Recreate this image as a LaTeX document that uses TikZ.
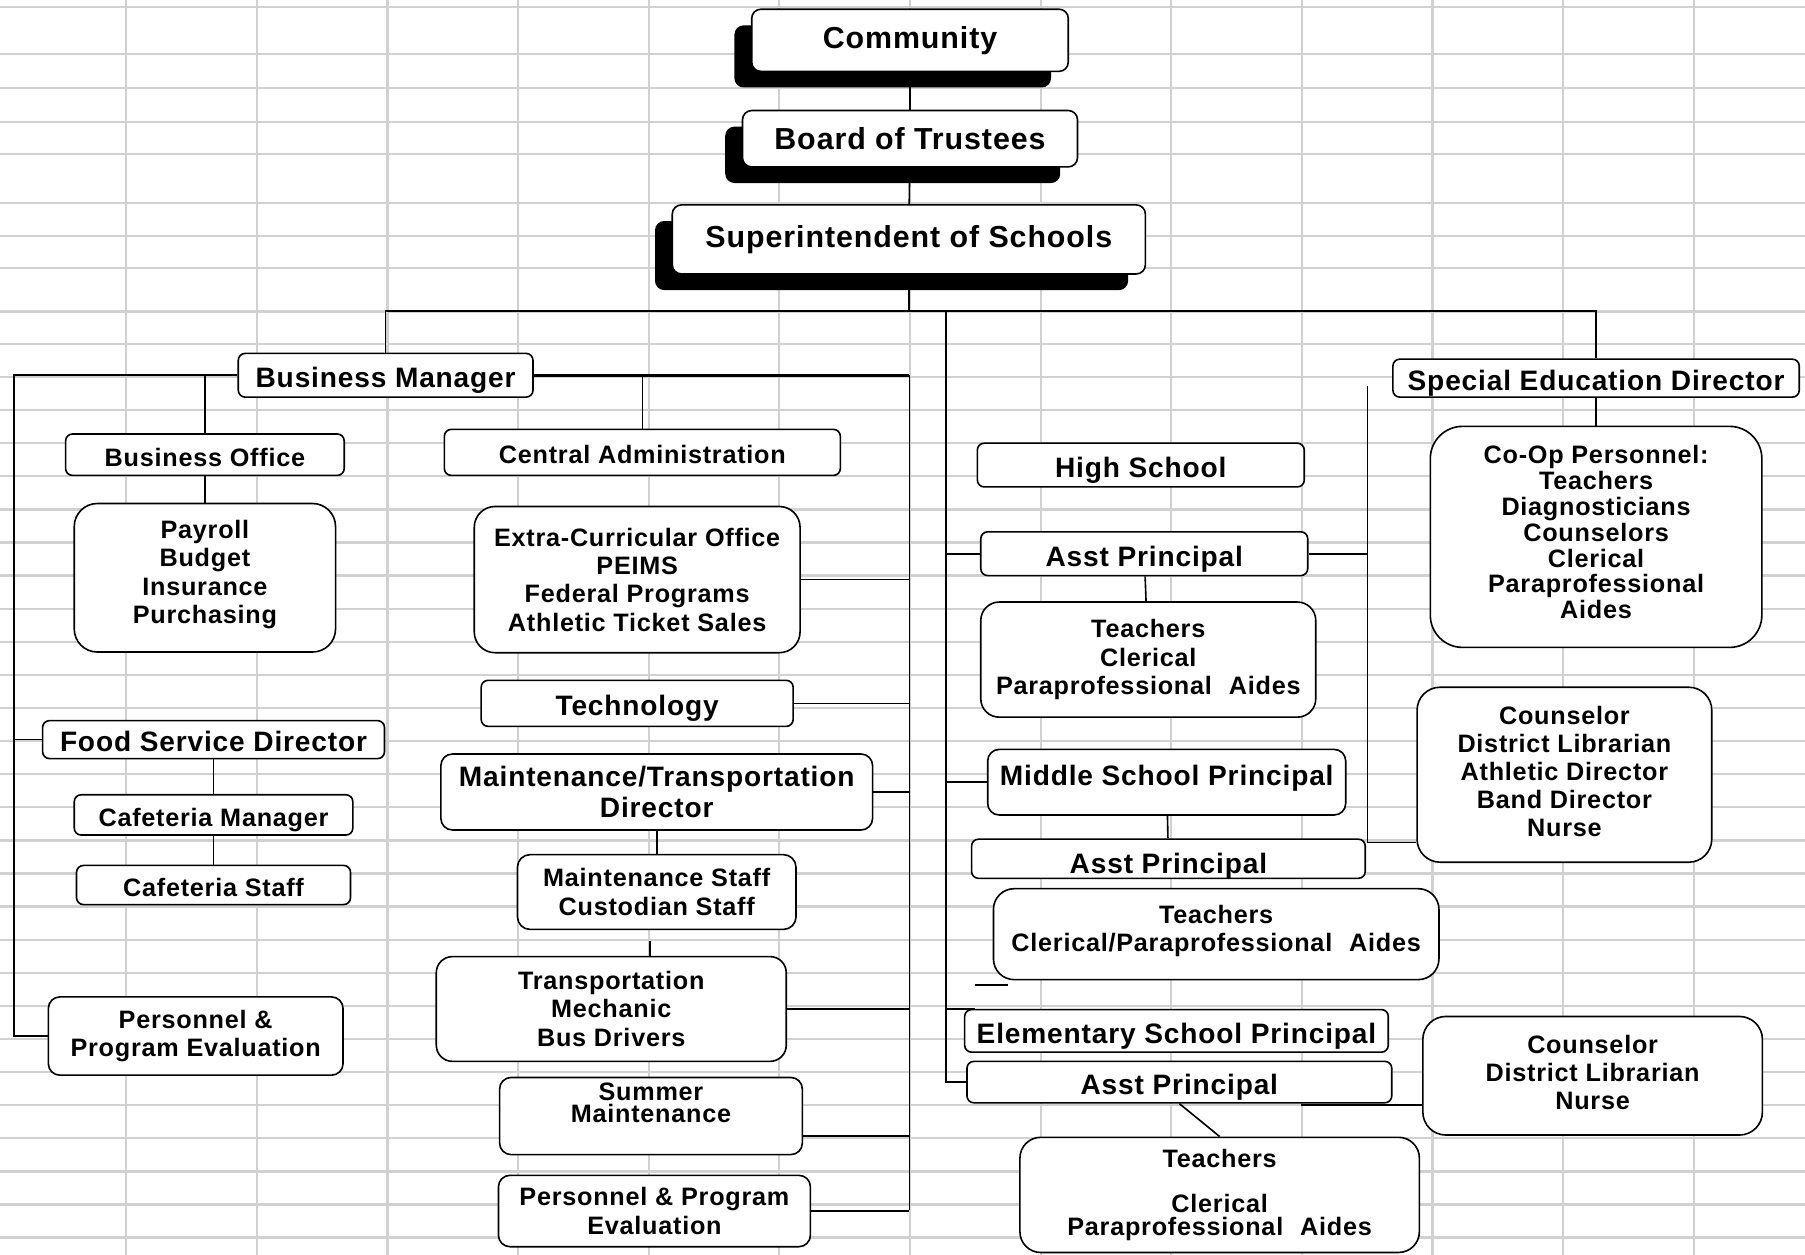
\documentclass[tikz,border=0pt]{standalone}
\usepackage{fontspec}
\setmainfont{Liberation Sans}[LetterSpace=3]
\usepackage{tikz}
\usetikzlibrary{positioning}
\usetikzlibrary{shadows}

\newcommand\titlefont{\fontsize{13.2}{15.5}\selectfont\bfseries}
\newcommand\unitfont{\fontsize{12.2}{13.5}\selectfont\bfseries}
\newcommand\minorfont{\fontsize{10.95}{12.5}\selectfont\bfseries}
\newcommand\crewfont{\fontsize{10.95}{12.3}\selectfont\bfseries}

\tikzset{
  gridline/.style={draw=black!18, line width=1pt},
  post/.style={draw, fill=white, line width=0.7pt, rounded corners=3pt,
               inner sep=0pt, align=center, font=\unitfont},
  single/.style={post, text height=12.5pt, text depth=1.76pt},
  toppost/.style={post, font=\titlefont, rounded corners=4pt,
               drop shadow={shadow xshift=-7.5pt, shadow yshift=-7pt, opacity=1, fill=black}},
  minorpost/.style={post, font=\minorfont, text height=11.4pt, text depth=1.56pt},
  crew/.style={post, font=\crewfont, rounded corners=9pt},
}

\begin{document}
\begin{tikzpicture}[x=0.5pt, y=-0.5pt, line width=0.7pt]
  \useasboundingbox (0,0) rectangle (1568,1090);
  % spreadsheet grid behind the chart
  \foreach \x in {0,...,12}
    \draw[gridline] (109.5+113.5*\x,0) -- (109.5+113.5*\x,1090);
  \foreach \y in {5.8,47.2,76.7,105.7,133.8,176.6,205,233,270.7}
    \draw[gridline] (0,\y) -- (1568,\y);
  \foreach \k in {0,...,27}
    \draw[gridline] (0,298.8+28.75*\k) -- (1568,298.8+28.75*\k);

  \node(Community) at (790.5,35)  [toppost, minimum width=137.5pt, minimum height=27pt] {Community};
  \node(Board)     at (790.5,120.5) [toppost, minimum width=145.5pt, minimum height=24.5pt] {Board of Trustees};
  \node(Super)     at (789.5,208) [toppost, minimum width=205.5pt, minimum height=30pt] {Superintendent of Schools};

  % business side
  \node(BizMgr)    at (335,326) [single, minimum width=128pt, minimum height=19pt] {Business Manager};
  \node(BizOffice) at (178,395) [minorpost, minimum width=121pt, minimum height=18pt] {Business Office};
  \node(Payroll)   [crew, rounded corners=10pt, below=11.5pt of BizOffice,
                    minimum width=113.5pt, minimum height=64.5pt] {Payroll\\Budget\\Insurance\\Purchasing\\[-7.1pt]\mbox{}};
  \node(FoodDir)   at (185.5,642.5) [single, minimum width=148.5pt, minimum height=16.5pt] {Food Service Director};
  \node(CafMgr)    [minorpost, below=15pt of FoodDir, minimum width=121pt, minimum height=17.5pt] {Cafeteria Manager};
  \node(CafStaff)  [minorpost, below=12.5pt of CafMgr, minimum width=119pt, minimum height=17pt] {Cafeteria Staff};
  \node(PersonnelL) at (170,900) [crew, rounded corners=5pt, minimum width=128pt, minimum height=34pt] {Personnel \&\\Program Evaluation};

  \node(CentralAdm) at (558,393) [minorpost, minimum width=172pt, minimum height=20pt] {Central Administration};
  \node(Extra)     at (553.5,503.5) [crew, minimum width=141.5pt, minimum height=63.5pt]
                   {Extra-Curricular Office\\PEIMS\\Federal Programs\\Athletic Ticket Sales};
  \node(Tech)      at (553.5,611) [single, minimum width=135.5pt, minimum height=20pt] {Technology};
  \node(MaintDir)  at (570.5,688) [post, rounded corners=5pt, minimum width=187.5pt, minimum height=33pt]
                   {Maintenance/Transportation\\Director};
  \node(MaintStaff) [crew, rounded corners=5.5pt, below=10pt of MaintDir,
                    minimum width=121pt, minimum height=32.5pt] {Maintenance Staff\\Custodian Staff};
  \node(Transport) at (531,876.5) [crew, rounded corners=7pt, minimum width=152pt, minimum height=45.5pt]
                   {Transportation\\Mechanic\\Bus Drivers};
  \node(Summer)    at (565.5,969.5) [crew, rounded corners=5pt, minimum width=131.5pt, minimum height=33.5pt,
                    font=\fontsize{10.95}{9.6}\selectfont\bfseries] {Summer\\Maintenance\\[1.7pt]\mbox{}};
  \node(PersonnelC) at (568.5,1052) [crew, rounded corners=5pt, minimum width=135.5pt, minimum height=31pt]
                   {Personnel \& Program\\Evaluation};

  % schools
  \node(HighSchool) at (991,404) [single, minimum width=142pt, minimum height=19pt] {High School};
  \node(APHS)      at (994,481) [single, minimum width=142pt, minimum height=19pt] {Asst Principal};
  \node(TeachHS)   at (997.5,573) [crew, rounded corners=8pt, minimum width=145.5pt, minimum height=50pt]
                   {Teachers\\Clerical\\Paraprofessional\hspace{4pt} Aides};
  \node(MSP)       at (1013.5,679.5) [post, rounded corners=5pt, minimum width=155.5pt, minimum height=28.5pt,
                    text height=9pt, text depth=6.5pt] {Middle School Principal};
  \node(APMS)      at (1015,746) [post, minimum width=171pt, minimum height=17pt,
                    text height=14.5pt, text depth=2pt] {Asst Principal};
  \node(TeachMS)   at (1056.5,811.5) [crew, minimum width=193.5pt, minimum height=39.5pt]
                   {Teachers\\Clerical/Paraprofessional\hspace{4pt} Aides\\[-7.1pt]\mbox{}};
  \node(ESP)       at (1022,895.5) [single, minimum width=184pt, minimum height=18.5pt] {Elementary School Principal};
  \node(APES)      at (1024.5,940) [single, minimum width=184.5pt, minimum height=18pt] {Asst Principal};
  \node(TeachES)   at (1059.5,1038) [crew, minimum width=173.5pt, minimum height=50pt,
                    font=\fontsize{10.95}{10}\selectfont\bfseries]
                   {Teachers\\[9.5pt]Clerical\\Paraprofessional\hspace{4pt} Aides};

  % special education
  \node(SpedDir)   at (1386.5,328.5) [single, minimum width=176.5pt, minimum height=16.5pt] {Special Education Director};
  \node(CoOp)      [crew, rounded corners=14pt, below=12pt of SpedDir, minimum width=144pt, minimum height=96pt,
                    font=\fontsize{10.95}{11.25}\selectfont\bfseries]
                   {Co-Op Personnel:\\Teachers\\Diagnosticians\\Counselors\\Clerical\\Paraprofessional\\Aides\\[-7pt]\mbox{}};
  \node(Support1)  at (1359,673) [crew, rounded corners=10pt, minimum width=128pt, minimum height=76pt,
                    font=\fontsize{10.95}{12.1}\selectfont\bfseries]
                   {Counselor\\District Librarian\\Athletic Director\\Band Director\\Nurse\\[-9.1pt]\mbox{}};
  \node(Support2)  at (1383.5,934.5) [crew, rounded corners=10pt, minimum width=147.5pt, minimum height=51.5pt]
                   {Counselor\\District Librarian\\Nurse\\[-9.3pt]\mbox{}};

  \coordinate(bus)        at (790,270);
  \coordinate(trunk)      at (822,270);
  \coordinate(leftRail)   at (12,326);
  \coordinate(midRail)    at (790,326);
  \coordinate(midRailEnd) at (790,1051);
  \coordinate(sideRail)   at (1188,335);
  \coordinate(esLink)     at (1130,960);

  \draw(Community) -- (Board);
  \draw(Board) -- (Super);
  \draw(Super) -- (Super |- bus);
  \draw(BizMgr) -- (BizMgr |- bus) -- (SpedDir |- bus) -- (SpedDir);

  \draw(BizMgr.west) -- (leftRail) |- (PersonnelL.west);
  \draw(FoodDir.west -| leftRail) -- (FoodDir.west);
  \draw(BizOffice) -- (BizOffice |- BizMgr.west);
  \draw(BizOffice) -- (Payroll);
  \draw(FoodDir) -- (CafMgr);
  \draw(CafMgr) -- (CafStaff);

  \draw[line width=1.1pt](BizMgr.east) -- (midRail);
  \draw(midRail) -- (midRailEnd);
  \draw(CentralAdm) -- (CentralAdm |- BizMgr.east);
  \foreach \x in {Extra,Tech,MaintDir,Transport,PersonnelC}
    \draw(\x.east) -- (\x.east -| midRail);
  \draw([yshift=-8.75pt]Summer.east) -- ([yshift=-8.75pt]Summer.east -| midRail);
  \draw(MaintDir) -- (MaintStaff);
  \draw([xshift=-3pt,yshift=-4.5pt]MaintStaff.south) -- ([xshift=-3pt]MaintStaff.south |- Transport.north);

  \draw(trunk) |- (APES.west);
  \foreach \x in {APHS,MSP}
    \draw(\x.west -| trunk) -- (\x.west);
  \draw(ESP.north west -| trunk) -- ([xshift=5pt]ESP.north west);
  \draw([xshift=-7.5pt,yshift=-2pt]TeachMS.south west) -- ++(14pt,0);
  \draw(APHS) -- (TeachHS);
  \draw(MSP) -- (APMS);
  \draw(APES.south) -- (TeachES.north);

  \draw(APHS.east) -- (APHS.east -| sideRail);
  \draw(sideRail) |- ([yshift=-29.5pt]Support1.west);
  \draw(esLink) -- (esLink -| Support2.west);
  \draw(SpedDir) -- (CoOp);

\end{tikzpicture}
\end{document}
